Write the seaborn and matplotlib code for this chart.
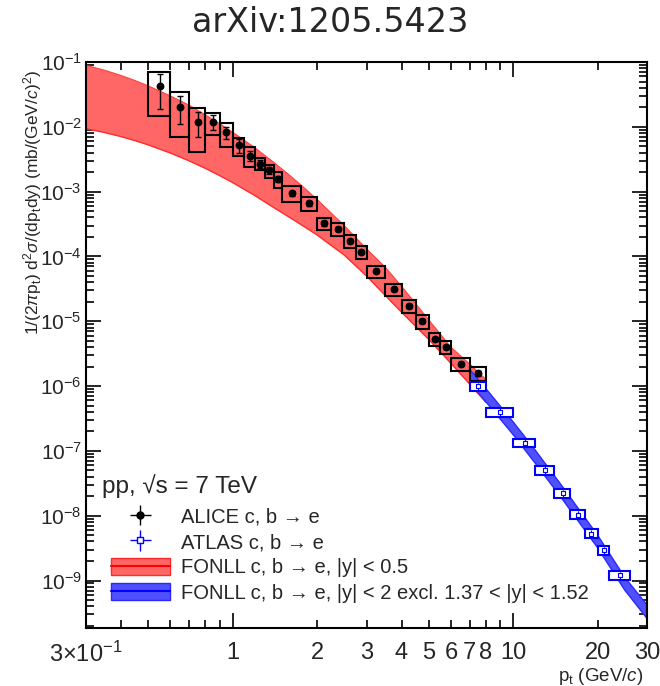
import numpy as np
import pandas as pd
import matplotlib
matplotlib.use("Agg")
import matplotlib.pyplot as plt
import seaborn as sns
from matplotlib.patches import Rectangle, Patch
from matplotlib.lines import Line2D
from matplotlib.ticker import FixedLocator, FixedFormatter, NullFormatter, LogFormatterSciNotation

# ---------------- data ----------------
alice_lo = [0.5, 0.6, 0.7, 0.8, 0.9, 1.0, 1.1, 1.2, 1.3, 1.4, 1.5, 1.75, 2.0, 2.25, 2.5, 2.75,
            3.0, 3.5, 4.0, 4.5, 5.0, 5.5, 6.0, 7.0]
alice_hi = [0.6, 0.7, 0.8, 0.9, 1.0, 1.1, 1.2, 1.3, 1.4, 1.5, 1.75, 2.0, 2.25, 2.5, 2.75, 3.0,
            3.5, 4.0, 4.5, 5.0, 5.5, 6.0, 7.0, 8.0]
alice_y = [0.042, 0.0204, 0.0119, 0.0120, 0.0082, 0.0052, 0.0036, 0.00270, 0.00212, 0.00157,
           9.4e-4, 6.6e-4, 3.26e-4, 2.67e-4, 1.74e-4, 1.19e-4, 5.9e-5, 3.1e-5, 1.74e-5, 1.0e-5,
           5.4e-6, 4.0e-6, 2.2e-6, 1.57e-6]
alice_stat = [0.023, 0.0095, 0.005, 0.003, 0.0018, 0.0012, 6e-4, 3.5e-4, 2.6e-4, 1.8e-4,
              9e-5, 6e-5, 2.6e-5, 2e-5, 1.3e-5, 8e-6, 4e-6, 2.1e-6, 1.2e-6, 7e-7,
              4e-7, 3e-7, 1.7e-7, 1.3e-7]
alice_syst = [0.0275, 0.0135, 0.0078, 0.0045, 0.0033, 0.0016, 0.0012, 5.5e-4, 5.0e-4, 4.2e-4,
              2.6e-4, 1.6e-4, 7.2e-5, 6e-5, 4e-5, 2.7e-5, 1.3e-5, 6.8e-6, 3.9e-6, 2.3e-6,
              1.25e-6, 9e-7, 5e-7, 3.8e-7]

atlas_lo = [7, 8, 10, 12, 14, 16, 18, 20, 22]
atlas_hi = [8, 10, 12, 14, 16, 18, 20, 22, 26]
atlas_y = [1.0e-6, 4.0e-7, 1.34e-7, 5.1e-8, 2.24e-8, 1.04e-8, 5.3e-9, 2.96e-9, 1.2e-9]
atlas_stat = [2e-8, 1e-8, 4e-9, 2e-9, 1e-9, 6e-10, 4e-10, 3e-10, 1.5e-10]
atlas_syst = [1.6e-7, 6.4e-8, 2.1e-8, 8.2e-9, 3.6e-9, 1.66e-9, 8.5e-10, 4.7e-10, 1.9e-10]

fonll_red_pt = [0.3, 0.35, 0.4, 0.45, 0.5, 0.6, 0.7, 0.8, 0.9, 1.0, 1.2, 1.4, 1.6, 1.8, 2.0,
                2.5, 3.0, 3.5, 4.0, 5.0, 6.0, 7.0, 8.0]
fonll_red_hi = [0.0891, 0.0745, 0.0619, 0.0515, 0.0428, 0.0299, 0.0215, 0.0152, 0.0111, 8.26e-3,
                4.74e-3, 2.84e-3, 1.77e-3, 1.14e-3, 7.55e-4, 2.98e-4, 1.31e-4, 6.8e-5, 3.47e-5,
                1.05e-5, 3.98e-6, 2.19e-6, 1.26e-6]
fonll_red_lo = [9.33e-3, 8.15e-3, 7.06e-3, 6.10e-3, 5.26e-3, 3.94e-3, 2.98e-3, 2.28e-3, 1.76e-3,
                1.38e-3, 8.69e-4, 5.69e-4, 3.98e-4, 2.88e-4, 2.14e-4, 1.05e-4, 5.0e-5, 2.5e-5,
                1.38e-5, 5.25e-6, 2.24e-6, 1.07e-6, 5.6e-7]

fonll_blue_pt = [7, 8, 10, 12, 15, 20, 25, 30]
fonll_blue_hi = [1.8e-6, 9.1e-7, 2.8e-7, 1.02e-7, 2.8e-8, 5.0e-9, 1.12e-9, 4.2e-10]
fonll_blue_lo = [1.12e-6, 5.7e-7, 1.78e-7, 6.4e-8, 1.78e-8, 3.2e-9, 7.1e-10, 2.6e-10]

x_minor_ticks = [0.3, 0.4, 0.5, 0.6, 0.7, 0.8, 0.9, 2, 3, 4, 5, 6, 7, 8, 9, 20, 30]
x_minor_labels = [r"3$\times$10$^{-1}$", "", "", "", "", "", "", "2", "3", "4", "5", "6", "7", "8",
                  "", "20", "30"]
x_major_ticks = [1, 10]
x_major_labels = ["1", "10"]
y_major_ticks = [1e-9, 1e-8, 1e-7, 1e-6, 1e-5, 1e-4, 1e-3, 1e-2, 1e-1]

legend_labels = ["ALICE c, b \u2192 e", "ATLAS c, b \u2192 e",
                 "FONLL c, b \u2192 e, |y| < 0.5",
                 "FONLL c, b \u2192 e, |y| < 2 excl. 1.37 < |y| < 1.52"]

# ---------------- style ----------------
sns.set_theme(style="ticks")
plt.rcParams['font.family'] = ['Liberation Sans', 'DejaVu Sans']
plt.rcParams['mathtext.fontset'] = 'custom'
plt.rcParams['mathtext.rm'] = 'Liberation Sans'
plt.rcParams['mathtext.it'] = 'Liberation Sans:italic'
plt.rcParams['mathtext.bf'] = 'Liberation Sans:bold'
plt.rcParams['mathtext.sf'] = 'Liberation Sans'

RED_FILL = "#ff6666"
BLUE_FILL = "#5050ff"

alice = pd.DataFrame({"lo": alice_lo, "hi": alice_hi, "y": alice_y,
                      "stat": alice_stat, "syst": alice_syst})
alice["pt"] = (alice["lo"] + alice["hi"]) / 2
atlas = pd.DataFrame({"lo": atlas_lo, "hi": atlas_hi, "y": atlas_y,
                      "stat": atlas_stat, "syst": atlas_syst})
atlas["pt"] = (atlas["lo"] + atlas["hi"]) / 2

fig = plt.figure(figsize=(6.6, 6.86), dpi=100)
ax = fig.add_axes([86 / 660, 1 - 628 / 686, (647 - 86) / 660, (628 - 62) / 686])
ax.set_xscale("log")
ax.set_yscale("log")
ax.set_xlim(0.3, 30)
ax.set_ylim(1.85e-10, 0.1)

# FONLL bands
ax.fill_between(fonll_red_pt, fonll_red_lo, fonll_red_hi, facecolor=RED_FILL, edgecolor="none", zorder=1)
ax.plot(fonll_red_pt, fonll_red_lo, color="#ff2a2a", lw=1.0, zorder=1.1)
ax.plot(fonll_red_pt, fonll_red_hi, color="#ff4040", lw=0.8, zorder=1.1)
ax.fill_between(fonll_blue_pt, fonll_blue_lo, fonll_blue_hi, facecolor=BLUE_FILL, edgecolor="none", zorder=1.5)
ax.plot(fonll_blue_pt, fonll_blue_lo, color="#2a2aff", lw=1.0, zorder=1.6)
ax.plot(fonll_blue_pt, fonll_blue_hi, color="#2a2aff", lw=1.0, zorder=1.6)

# ALICE systematic boxes
for r in alice.itertuples():
    ax.add_patch(Rectangle((r.lo, r.y - r.syst), r.hi - r.lo, 2 * r.syst,
                           fill=False, edgecolor="black", lw=1.5, zorder=3))
ax.errorbar(alice["pt"], alice["y"], yerr=alice["stat"], fmt="none", ecolor="black",
            elinewidth=1.0, capsize=2, capthick=1.0, zorder=4)
sns.scatterplot(data=alice, x="pt", y="y", color="black", s=32, marker="o",
                edgecolor="black", linewidth=0, zorder=5, ax=ax)

# ATLAS systematic boxes
for r in atlas.itertuples():
    ax.add_patch(Rectangle((r.lo, r.y - r.syst), r.hi - r.lo, 2 * r.syst,
                           facecolor="white", edgecolor="#0000ff", lw=1.5, zorder=6))
ax.errorbar(atlas["pt"], atlas["y"], yerr=atlas["syst"] * 0.8, fmt="none", ecolor="#0000ff",
            elinewidth=0.8, capsize=0, zorder=7)
sns.scatterplot(data=atlas, x="pt", y="y", marker="s", s=12, facecolor="white",
                edgecolor="#0000ff", linewidth=0.8, zorder=8, ax=ax)

# axes styling
for s in ax.spines.values():
    s.set_linewidth(1.5)
    s.set_color("black")
ax.tick_params(which="both", direction="in", top=True, right=True, color="black", width=1.2)
ax.tick_params(which="major", length=11)
ax.tick_params(which="minor", length=6)
ax.tick_params(axis="x", which="both", labelsize=17, pad=10)
ax.tick_params(axis="y", which="both", labelsize=15, pad=3)

ax.xaxis.set_major_locator(FixedLocator(x_major_ticks))
ax.xaxis.set_major_formatter(FixedFormatter(x_major_labels))
ax.xaxis.set_minor_locator(FixedLocator(x_minor_ticks))
ax.xaxis.set_minor_formatter(FixedFormatter(x_minor_labels))
ax.yaxis.set_major_locator(FixedLocator(y_major_ticks))
ax.yaxis.set_major_formatter(LogFormatterSciNotation())
y_minor = [m * d for d in [1e-10] + y_major_ticks[:-1] for m in range(2, 10)]
ax.yaxis.set_minor_locator(FixedLocator([v for v in y_minor if v > 1.85e-10]))
ax.yaxis.set_minor_formatter(NullFormatter())

ax.set_xlabel(r"p$_{\rm t}$ (GeV/$c$)", fontsize=13.5, ha="right")
ax.xaxis.set_label_coords(0.993, -0.068)
ax.set_ylabel(r"1/(2$\pi$p$_{\rm t}$) d$^{2}\sigma$/(dp$_{\rm t}$dy) (mb/(GeV/$c$)$^{2}$)",
              fontsize=12.5, ha="right")
ax.yaxis.set_label_coords(-0.075, 0.985)

ax.text(0.028, 0.25, "pp, \u221as = 7 TeV", transform=ax.transAxes, fontsize=17.5,
        ha="left", va="center")

# legend
h_alice = ax.errorbar([np.nan], [np.nan], xerr=[1], yerr=[1], fmt="o", color="black",
                      markersize=5, elinewidth=1.0, lw=1.0)
h_atlas = ax.errorbar([np.nan], [np.nan], xerr=[1], yerr=[1], fmt="s", color="#0000ff",
                      mfc="white", mec="#0000ff", markersize=5, elinewidth=1.0, lw=1.0)
h_red = (Patch(facecolor=RED_FILL, edgecolor="#ff2a2a", lw=1.0),
         Line2D([], [], color="#ff0000", lw=1.5))
h_blue = (Patch(facecolor=BLUE_FILL, edgecolor="#2a2aff", lw=1.0),
          Line2D([], [], color="#0000ff", lw=1.5))
leg = ax.legend([h_alice, h_atlas, h_red, h_blue], legend_labels, loc="upper left",
                bbox_to_anchor=(0.045, 0.213), frameon=False, fontsize=14.5,
                handlelength=2.9, handleheight=0.9, handletextpad=0.55,
                labelspacing=0.3, borderpad=0, borderaxespad=0)

fig.text(0.5, 1 - 22 / 686, "arXiv:1205.5423", ha="center", va="center",
         fontsize=24, family="DejaVu Sans")

fig.savefig("out.png", dpi=100)
